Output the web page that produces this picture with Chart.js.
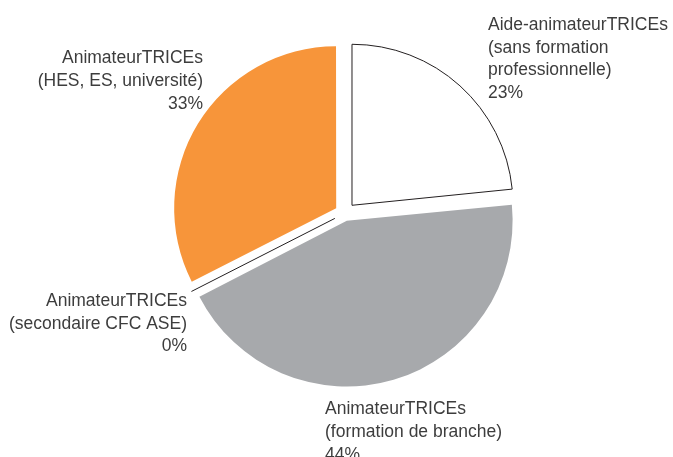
<!DOCTYPE html>
<html>
<head>
<meta charset="utf-8">
<script src="https://cdn.jsdelivr.net/npm/chart.js@4.4.0/dist/chart.umd.min.js"></script>
<style>
  html, body { margin: 0; padding: 0; background: #fff; }
  #wrap { position: relative; width: 673px; height: 457px; }
</style>
</head>
<body>
<div id="wrap"><canvas id="c" width="673" height="457"></canvas></div>
<script>
// ---- data ----
const categories = [
  ["Aide-animateurTRICEs", "(sans formation", "professionnelle)"],
  ["AnimateurTRICEs", "(formation de branche)"],
  ["AnimateurTRICEs", "(secondaire CFC ASE)"],
  ["AnimateurTRICEs", "(HES, ES, université)"]
];
const shares = [23.4, 44.1, 0, 32.5];
const percentLabels = ["23%", "44%", "0%", "33%"]; // as printed

// ---- styles ----
const fills = ["#ffffff", "#a7a9ac", "#ffffff", "#f7953a"];
const borders = ["#231f20", "#a7a9ac", "#231f20", "#f7953a"];
const borderWidths = [1, 0, 1, 0];
const explode = [11, 12.5, 11, 11]; // px translation for each slice

// Chart.js translates an arc by offset/4 * (2 - sin(circumference))
function offsetsFor(values) {
  const total = values.reduce((a, b) => a + b, 0);
  return values.map((v, i) => {
    const circ = Math.min(Math.PI, (v / total) * 2 * Math.PI);
    const fix = 1 - Math.sin(circ);
    return explode[i] * 4 / (1 + fix);
  });
}

const labelPos = [
  { x: 488, y: 30, align: "left" },
  { x: 325, y: 414.3, align: "left" },
  { x: 187, y: 306, align: "right" },
  { x: 203, y: 63.3, align: "right" }
];
const lineH = 22.6;

const zeroLinePlugin = {
  id: "zeroLine",
  afterDatasetsDraw(chart) {
    const meta = chart.getDatasetMeta(0);
    const ctx = chart.ctx;
    meta.data.forEach((arc, i) => {
      const p = arc.getProps(["x", "y", "startAngle", "endAngle", "outerRadius"], true);
      if (p.endAngle - p.startAngle !== 0) return;
      const t = explode[i];
      const a = p.startAngle;
      ctx.save();
      ctx.strokeStyle = borders[i];
      ctx.lineWidth = 1;
      ctx.beginPath();
      ctx.moveTo(p.x + Math.cos(a) * t, p.y + Math.sin(a) * t);
      ctx.lineTo(p.x + Math.cos(a) * (t + p.outerRadius), p.y + Math.sin(a) * (t + p.outerRadius));
      ctx.stroke();
      ctx.restore();
    });
  }
};

const labelPlugin = {
  id: "sliceLabels",
  afterDraw(chart) {
    const ctx = chart.ctx;
    ctx.save();
    ctx.font = '17.5px "Liberation Sans", Arial, sans-serif';
    ctx.fillStyle = "#3d3d3d";
    ctx.textBaseline = "alphabetic";
    categories.forEach((lines, i) => {
      const pos = labelPos[i];
      ctx.textAlign = pos.align;
      const all = lines.concat([percentLabels[i]]);
      all.forEach((ln, k) => ctx.fillText(ln, pos.x, pos.y + k * lineH));
    });
    ctx.restore();
  }
};

new Chart(document.getElementById("c"), {
  type: "pie",
  data: {
    labels: categories.map(l => l.join(" ")),
    datasets: [{
      data: shares,
      backgroundColor: fills,
      borderColor: borders,
      borderWidth: borderWidths,
      offset: offsetsFor(shares),
      borderAlign: "center"
    }]
  },
  options: {
    responsive: false,
    animation: false,
    events: [],
    layout: { padding: { top: 30, bottom: 60.2, left: 161.3, right: 145 } },
    plugins: { legend: { display: false }, tooltip: { enabled: false } }
  },
  plugins: [zeroLinePlugin, labelPlugin]
});
</script>
</body>
</html>
